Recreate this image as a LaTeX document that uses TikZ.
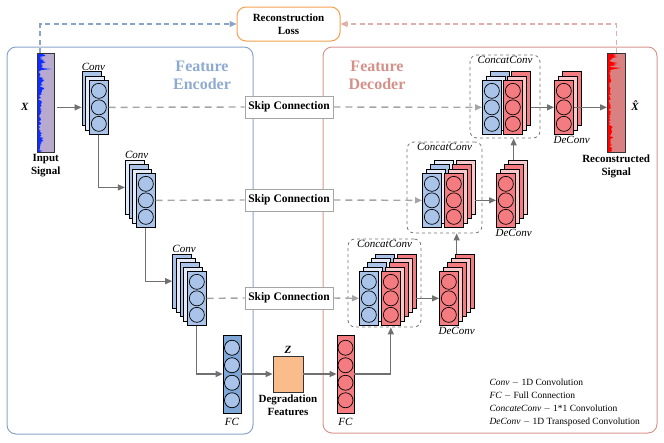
\documentclass[tikz,border=0pt]{standalone}
\usepackage{fontspec}
\setmainfont{Liberation Serif}
\usepackage{tikz}
\usetikzlibrary{arrows.meta,calc,positioning}
\definecolor{encblue}{RGB}{169,196,232}
\definecolor{encpale}{RGB}{226,235,247}
\definecolor{fcblue}{RGB}{126,166,214}
\definecolor{decred}{RGB}{244,124,128}
\definecolor{decpale}{RGB}{250,200,200}
\definecolor{encframe}{RGB}{138,164,201}
\definecolor{decframe}{RGB}{214,150,143}
\definecolor{lossorange}{RGB}{245,160,80}
\definecolor{zorange}{RGB}{248,189,139}
\definecolor{sigblue}{RGB}{15,45,255}
\definecolor{sigred}{RGB}{255,0,0}
\definecolor{inlav}{RGB}{183,170,206}
\definecolor{outrose}{RGB}{217,128,128}
\definecolor{flowgray}{RGB}{112,112,112}
\definecolor{skipgray}{RGB}{165,165,165}
\definecolor{enctext}{RGB}{143,170,208}
\definecolor{dectext}{RGB}{212,145,138}

% stack of feature maps, drawn from the back layer to the front one
% #1 name, #2 #3 top-left of front layer, #4 index of back layer,
% #5 horizontal step, #6 solid colour, #7 pale colour
\newcommand{\layerstack}[7]{%
  \foreach \i in {#4,...,0}{%
    \pgfmathtruncatemacro{\pale}{mod(\i,2)}%
    \ifnum\pale=1 \colorlet{lyr}{#7}\else\colorlet{lyr}{#6}\fi
    \node[fmap, fill=lyr] (#1-\i) at ({#2+\i*#5},{#3-\i*4.3}) {};
  }%
}
% column of neurons inside a layer: #1 layer, #2 count, #3 spacing, #4 colour
\newcommand{\neurons}[4]{%
  \foreach \u in {1,...,#2}{%
    \node[neuron, fill=#4] (#1-n\u) at ($(#1.center)+(0,{(\u-(#2+1)/2)*#3})$) {};
  }%
}

\tikzset{
  fmap/.style={draw=black, line width=0.7pt, minimum width=19pt, minimum height=54pt, inner sep=0pt, anchor=north west},
  neuron/.style={circle, draw=black, line width=0.7pt, minimum size=15pt, inner sep=0pt},
  framebox/.style={rounded corners=9pt, line width=1pt},
  ccbox/.style={draw=black!55, dashed, rounded corners=7pt, line width=0.8pt},
  skipbox/.style={draw=skipgray, fill=white, line width=0.8pt, minimum width=88pt, minimum height=22pt, inner sep=0pt, font=\fontsize{11.5}{13}\selectfont\bfseries},
  lossbox/.style={draw=lossorange, fill=white, rounded corners=9pt, line width=1pt, minimum width=103pt, minimum height=34pt, inner sep=0pt, align=center, font=\fontsize{11}{13}\selectfont\bfseries},
  txt/.style={font=\fontsize{11}{13}\selectfont\bfseries, align=center, inner sep=2pt},
  ital/.style={font=\fontsize{11}{13}\selectfont\itshape, inner sep=2pt},
  frametitle/.style={font=\fontsize{16}{18}\selectfont\bfseries, align=center},
  flow/.style={draw=flowgray, line width=1.2pt, -{Triangle[length=7pt,width=6pt]}},
  skipline/.style={draw=skipgray, line width=1.4pt, dash pattern=on 7pt off 5pt},
  skiparrow/.style={skipline, -{Triangle[length=7pt,width=6pt]}},
  lossblue/.style={draw=encframe, line width=1.1pt, dash pattern=on 5pt off 3.5pt, -{Triangle[length=7pt,width=6pt]}},
  lossred/.style={draw=decframe!75, line width=1.1pt, dash pattern=on 5pt off 3.5pt, -{Triangle[length=7pt,width=6pt]}},
}

\begin{document}
\begin{tikzpicture}[x=1pt, y=-1pt]
  \useasboundingbox (0,0) rectangle (664,442);
  % encoder / decoder frames and the loss
  \node[framebox, draw=encframe, minimum width=246pt, minimum height=387pt] (encbox) at (130,240.5) {};
  \node[framebox, draw=decframe, minimum width=334pt, minimum height=386pt] (decbox) at (490,240) {};
  \node[lossbox] (loss) at (288.5,24) {Reconstruction\\Loss};
  \node[frametitle, text=enctext] (tenc) at (202,75) {Feature\\Encoder};
  \node[frametitle, text=dectext] (tdec) at (377,75) {Feature\\Decoder};

  % input signal bar with its waveform
  \def\inx{37}
  \def\outx{607}
  \node[fill=inlav, minimum width=17pt, minimum height=99pt, inner sep=0pt, anchor=north west] (insig) at (\inx,53) {};
  \pgfmathsetseed{11}
  \fill[sigblue] (insig.north west) \foreach \yy in {54,...,151}{ -- ({\inx+1.5+3.5*rnd+(\yy<72)*11*rnd^2+(\yy>76)*(\yy<92)*3*rnd+(\yy>130)*2*rnd},\yy) } -- (insig.south west) -- cycle;
  \draw[line width=0.8pt, black!80] (insig.north west) rectangle (insig.south east);
  % output signal bar
  \node[fill=outrose, minimum width=18pt, minimum height=99pt, inner sep=0pt, anchor=north west] (outsig) at (\outx,53) {};
  \pgfmathsetseed{5}
  \fill[sigred] (outsig.north west) \foreach \yy in {54,...,151}{ -- ({\outx+1.5+3*rnd+(\yy<70)*12*rnd^2+(\yy>125)*2*rnd},\yy) } -- (outsig.south west) -- cycle;
  \draw[line width=0.8pt, black!80] (outsig.north west) rectangle (outsig.south east);

  % encoder convolutions
  \layerstack{conv1}{89}{80}{2}{-3.7}{encblue}{encpale}
  \neurons{conv1-0}{3}{16.5}{encblue}
  \layerstack{conv2}{136}{173}{3}{-3.7}{encblue}{encpale}
  \neurons{conv2-0}{3}{16.5}{encblue}
  \layerstack{conv3}{187}{271}{4}{-3.7}{encblue}{encpale}
  \neurons{conv3-0}{3}{16.5}{encblue}

  % bottleneck
  \node[fmap, anchor=center, minimum width=18pt, minimum height=78pt, fill=fcblue] (fcenc) at (232,374) {};
  \neurons{fcenc}{4}{17.5}{encblue}
  \node[draw=black!80, line width=0.8pt, fill=zorange, minimum width=30pt, minimum height=36pt] (zbox) at (288,374) {};
  \node[fmap, anchor=center, minimum width=17pt, minimum height=78pt, fill=decred] (fcdec) at (345.5,374) {};
  \neurons{fcdec}{4}{17.5}{decred}

  % decoder: concatenation boxes
  \node[ccbox, minimum width=73pt, minimum height=88pt] (cc1) at (384.5,283) {};
  \node[ccbox, minimum width=75pt, minimum height=91pt] (cc2) at (444.5,187.5) {};
  \node[ccbox, minimum width=70pt, minimum height=83pt] (cc3) at (505,96.5) {};
  \layerstack{cc1b}{359}{271}{4}{3.9}{encblue}{encpale}
  \neurons{cc1b-0}{3}{16.5}{encblue}
  \layerstack{cc1r}{381}{271}{4}{3.9}{decred}{decpale}
  \neurons{cc1r-0}{3}{16.5}{decred}
  \layerstack{dc1}{439}{271}{4}{3.9}{decred}{decpale}
  \neurons{dc1-0}{3}{16.5}{decred}
  \layerstack{cc2b}{422}{173}{3}{3.9}{encblue}{encpale}
  \neurons{cc2b-0}{3}{16.5}{encblue}
  \layerstack{cc2r}{444}{173}{3}{3.9}{decred}{decpale}
  \neurons{cc2r-0}{3}{16.5}{decred}
  \layerstack{dc2}{496}{173}{3}{3.9}{decred}{decpale}
  \neurons{dc2-0}{3}{16.5}{decred}
  \layerstack{cc3b}{482}{80}{2}{3.9}{encblue}{encpale}
  \neurons{cc3b-0}{3}{16.5}{encblue}
  \layerstack{cc3r}{503}{80}{2}{3.9}{decred}{decpale}
  \neurons{cc3r-0}{3}{16.5}{decred}
  \layerstack{dc3}{554}{80}{2}{3.9}{decred}{decpale}
  \neurons{dc3-0}{3}{16.5}{decred}

  % skip connections
  \node[skipbox] (skip1) at (289,107) {Skip Connection};
  \node[skipbox] (skip2) at (289,200) {Skip Connection};
  \node[skipbox] (skip3) at (289,298) {Skip Connection};

  % connectors
  \draw[flow, shorten <=3pt] (insig.east |- conv1-0.west) -- (conv1-2.west |- conv1-0.west);
  \draw[skipline] (conv1-0.east) -- (skip1.west);
  \draw[flow] (conv1-0.south) |- (conv2-3.west);
  \draw[skipline] (conv2-0.east) -- (skip2.west);
  \draw[flow] (conv2-0.south) |- (conv3-4.west);
  \draw[skipline] (conv3-0.east) -- (skip3.west);
  \draw[flow] (conv3-0.south) |- (fcenc.west);
  \draw[flow] (fcenc.east) -- (zbox.west);
  \draw[flow] (zbox.east) -- (fcdec.west);
  \draw[flow] (fcdec.east) -| (cc1r-0 |- cc1.south);
  \draw[skiparrow] (skip3.east) -- (cc1b-0.west);
  \draw[flow] (cc1r-4.east |- cc1r-0.east) -- (dc1-0.west);
  \draw[flow] (dc1-2 |- dc1-4.north) -- (dc1-2 |- cc2.south);
  \draw[skiparrow] (skip2.east) -- (cc2b-0.west);
  \draw[flow] (cc2r-3.east |- cc2r-0.east) -- (dc2-0.west);
  \draw[flow] (dc2-2 |- dc2-3.north) -- (dc2-2 |- cc3.south);
  \draw[skiparrow] (skip1.east) -- (cc3b-0.west);
  \draw[flow] (cc3r-2.east |- cc3r-0.east) -- (dc3-0.west);
  \draw[flow] (dc3-0.east) -- (outsig.west |- dc3-0.east);
  \draw[lossblue] ($(insig.north west)+(3,0)$) |- (loss.west);
  \draw[lossred] (outsig.north) |- (loss.east);

  % labels
  \node[txt] (lx) at ($(insig.west)+(-12,4.5)$) {\textit{X}};
  \node[txt, below=0pt of insig.south] (lin) {Input\\Signal};
  \node[txt] (lxhat) at ($(outsig.east)+(11,3)$) {\textit{\^{X}}};
  \node[txt, below=0pt of outsig.south] (lout) {Reconstructed\\Signal};
  \node[ital, above=-1pt] (lconv1) at ($(conv1-2.north)+(2,0)$) {Conv};
  \node[ital, above=-1pt] (lconv2) at ($(conv2-3.north)+(2,0)$) {Conv};
  \node[ital, above=-1pt] (lconv3) at ($(conv3-4.north)+(2,0)$) {Conv};
  \node[ital, below=3pt of fcenc.south] (lfcenc) {FC};
  \node[ital, below=3pt of fcdec.south] (lfcdec) {FC};
  \node[txt, above=0pt of zbox.north] (lz) {\textit{Z}};
  \node[txt, below=0pt of zbox.south] (ldeg) {Degradation\\Features};
  \node[ital, below=-1pt] (lcc1) at (cc1.north) {ConcatConv};
  \node[ital, below=-1pt] (lcc2) at (cc2.north) {ConcatConv};
  \node[ital, below=-1pt] (lcc3) at (cc3.north) {ConcatConv};
  \node[ital, below=-1pt] (ldc1) at (dc1-0.south -| dc1-2) {DeConv};
  \node[ital, below=-1pt] (ldc2) at (dc2-0.south -| dc2-2) {DeConv};
  \node[ital, below=-1pt] (ldc3) at (dc3-0.south -| dc3-2) {DeConv};

  % legend
  \node[anchor=west, align=left, font=\fontsize{9.5}{13}\selectfont] (legend) at (486,402.5)
    {\textit{Conv} $-$ 1D Convolution\\
     \textit{FC} $-$ Full Connection\\
     \textit{ConcateConv} $-$ 1*1 Convolution\\
     \textit{DeConv} $-$ 1D Transposed Convolution};
\end{tikzpicture}
\end{document}
